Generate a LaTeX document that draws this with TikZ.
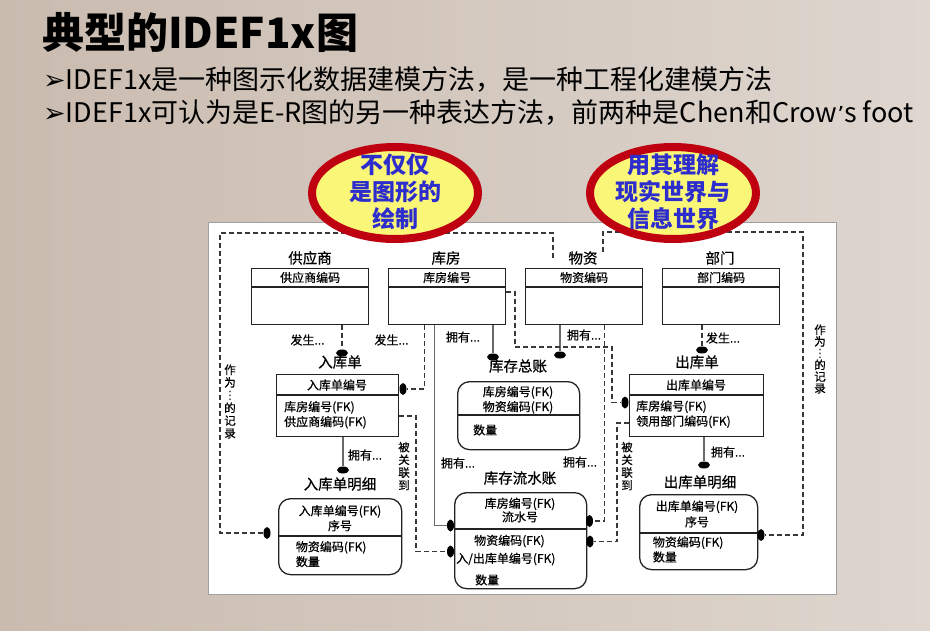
\documentclass[tikz,border=0pt]{standalone}
\usepackage{fontspec}
\setmainfont{Noto Sans CJK SC}
\newfontfamily\dgm{Noto Sans CJK SC}[FakeBold=0.6]
\newfontfamily\sym{DejaVu Sans}
\usetikzlibrary{shapes.geometric}
\definecolor{bgL}{RGB}{202,187,175}
\definecolor{bgR}{RGB}{222,214,207}
\definecolor{ringred}{RGB}{190,0,16}
\definecolor{ellyel}{RGB}{250,246,120}
\definecolor{ellblue}{RGB}{45,45,205}
\definecolor{solidgray}{RGB}{105,105,105}
\definecolor{dashgray}{RGB}{55,55,55}
\definecolor{boxline}{RGB}{35,35,35}
\definecolor{panelline}{RGB}{160,160,160}
\begin{document}
\begin{tikzpicture}[x=1pt,y=-1pt,
  ent/.style={draw=boxline, line width=1.3pt, fill=white, inner sep=0, anchor=north west},
  rent/.style={ent, rounded corners=12pt},
  div/.style={draw=boxline, line width=1.2pt},
  txt/.style={font=\dgm\fontsize{12}{15}\selectfont, inner sep=0, align=center},
  lbl/.style={font=\dgm\fontsize{14.5}{16}\selectfont, inner sep=0},
  body/.style={font=\dgm\fontsize{12}{15}\selectfont, inner sep=0, align=left, anchor=west},
  solidc/.style={draw=solidgray, line width=1.6pt},
  dashc/.style={draw=dashgray, line width=1.1pt, dash pattern=on 5pt off 3pt},
  hdot/.style={ellipse, fill=black, minimum width=12pt, minimum height=7pt, inner sep=0},
  vdot/.style={ellipse, fill=black, minimum width=7pt, minimum height=12pt, inner sep=0},
  rel/.style={font=\dgm\fontsize{12}{14}\selectfont, inner sep=0},
  vtxt/.style={font=\dgm\fontsize{11.5}{12.7}\selectfont, align=center, inner sep=0},
  ell/.style={ellipse, draw=ringred, line width=8pt, fill=ellyel, minimum width=166pt, minimum height=92pt, inner sep=0},
  elltxt/.style={font=\fontsize{23}{27}\selectfont\bfseries, text=ellblue, align=center, inner sep=0},
]
\useasboundingbox (0,0) rectangle (930,630);
\shade[left color=bgL, right color=bgR] (0,0) rectangle (930,630);

% title and bullets
\node[anchor=west, inner sep=0, font=\fontsize{42}{46}\selectfont\bfseries] (title) at (42,32) {典型的IDEF1x图};
\node[anchor=west, inner sep=0, font=\fontsize{27}{30}\selectfont] (b1) at (43,80) {{\sym\fontsize{27}{28}\selectfont ➢}IDEF1x是一种图示化数据建模方法，是一种工程化建模方法};
\node[anchor=west, inner sep=0, font=\fontsize{27}{30}\selectfont] (b2) at (43,113) {{\sym\fontsize{27}{28}\selectfont ➢}IDEF1x可认为是E-R图的另一种表达方法，前两种是Chen和Crow{\sym\fontsize{22}{24}\selectfont ’}s foot};

% panel
\node[draw=panelline, fill=white, line width=0.8pt, minimum width=628pt, minimum height=372pt, inner sep=0, anchor=north west] (panel) at (208,222) {};

% top entities
\node[ent, minimum width=117pt, minimum height=56pt] (gys) at (251,268) {};
\node[ent, minimum width=117pt, minimum height=56pt] (kf) at (388,268) {};
\node[ent, minimum width=117pt, minimum height=56pt] (wz) at (525,268) {};
\node[ent, minimum width=117pt, minimum height=56pt] (bm) at (662,268) {};
\foreach \n in {gys,kf,wz,bm}{
  \draw[div] ([yshift=-19pt]\n.north west) -- ([yshift=-19pt]\n.north east);
}
\node[txt] (gysk) at ([yshift=-9.5pt]gys.north) {供应商编码};
\node[txt] (kfk) at ([yshift=-9.5pt]kf.north) {库房编号};
\node[txt] (wzk) at ([yshift=-9.5pt]wz.north) {物资编码};
\node[txt] (bmk) at ([yshift=-9.5pt]bm.north) {部门编码};
\node[lbl] (gysl) at (310,258) {供应商};
\node[lbl] (kfl) at (446,258) {库房};
\node[lbl] (wzl) at (583,258) {物资};
\node[lbl] (bml) at (720,258) {部门};

% middle entities
\node[ent, minimum width=122pt, minimum height=62pt] (rkd) at (276,374) {};
\draw[div] ([yshift=-21pt]rkd.north west) -- ([yshift=-21pt]rkd.north east);
\node[txt] (rkdk) at (337,385) {入库单编号};
\node[body] (rkdb) at (284,414.8) {库房编号(FK)\\供应商编码(FK)};
\node[lbl] (rkdl) at (340,362) {入库单};

\node[rent, minimum width=122pt, minimum height=68pt] (kczz) at (457,381) {};
\draw[div] ([yshift=-34pt]kczz.north west) -- ([yshift=-34pt]kczz.north east);
\node[txt] (kczzk) at (518,399.8) {库房编号(FK)\\物资编码(FK)};
\node[body] (kczzb) at (473,430) {数量};
\node[lbl] (kczzl) at (518,366) {库存总账};

\node[ent, minimum width=134pt, minimum height=62pt] (ckd) at (629,374) {};
\draw[div] ([yshift=-21pt]ckd.north west) -- ([yshift=-21pt]ckd.north east);
\node[txt] (ckdk) at (696,385) {出库单编号};
\node[body] (ckdb) at (636,414.2) {库房编号(FK)\\领用部门编码(FK)};
\node[lbl] (ckdl) at (697,362) {出库单};

% bottom entities
\node[rent, minimum width=123pt, minimum height=76pt] (rkmx) at (278,498) {};
\draw[div] ([yshift=-38pt]rkmx.north west) -- ([yshift=-38pt]rkmx.north east);
\node[txt] (rkmxk) at (340,518.2) {入库单编号(FK)\\序号};
\node[body] (rkmxb) at (295.7,554.2) {物资编码(FK)\\数量};
\node[lbl] (rkmxl) at (340,484) {入库单明细};

\node[rent, minimum width=132pt, minimum height=96pt] (kcls) at (454,492) {};
\draw[div] ([yshift=-37pt]kcls.north west) -- ([yshift=-37pt]kcls.north east);
\node[txt, font=\dgm\fontsize{12}{13.6}\selectfont] (kclsk) at (520,510) {库房编号(FK)\\流水号};
\node[body] (kclsb1) at (474,541) {物资编码(FK)};
\node[body] (kclsb2) at (456,559) {入/出库单编号(FK)};
\node[body] (kclsb3) at (475,580) {数量};
\node[lbl] (kclsl) at (520,478) {库存流水账};

\node[rent, minimum width=118pt, minimum height=75pt] (ckmx) at (639,494) {};
\draw[div] ([yshift=-39pt]ckmx.north west) -- ([yshift=-39pt]ckmx.north east);
\node[txt, font=\dgm\fontsize{12}{15.7}\selectfont] (ckmxk) at (697,514) {出库单编号(FK)\\序号};
\node[body] (ckmxb) at (652.7,549.5) {物资编码(FK)\\数量};
\node[lbl] (ckmxl) at (700,482) {出库单明细};

% dots
\node[hdot] (d1) at (342,353) {};
\node[vdot] (d2) at (403,389) {};
\node[vdot] (d3) at (450.5,525.5) {};
\node[hdot] (d4) at (493,357) {};
\node[hdot] (d5) at (560,355) {};
\node[vdot] (d6) at (589.5,521) {};
\node[vdot] (d7) at (625,402.5) {};
\node[vdot] (d8) at (450.5,551.5) {};
\node[vdot] (d9) at (590,541.5) {};
\node[hdot] (d10) at (343,470) {};
\node[hdot] (d11) at (704,465) {};
\node[hdot] (d12) at (702,350) {};
\node[vdot] (d13) at (267,533) {};
\node[vdot] (d14) at (761,535) {};
\coordinate (w1) at (553,258);
\coordinate (w2) at (603,252);

% connectors
\draw[dashc] (gys.south -| d1) -- (d1);
\draw[dashc] ([xshift=-22.5pt]kf.south) |- (d2);
\draw[solidc] ([xshift=-12.5pt]kf.south) |- (d3);
\draw[solidc] (kf.south -| d4) -- (d4);
\draw[solidc] (wz.south -| d5) -- (d5);
\draw[dashc] ([xshift=20.5pt]wz.south) |- (d6);
\draw[dashc] ([yshift=-24pt]kf.north east) -| (515,347) -- (612,347) |- (d7);
\draw[dashc] ([yshift=-42pt]rkd.north east) -- (416,416) |- (d8);
\draw[dashc] ([yshift=-49pt]ckd.north west) -- (617,423) |- (d9);
\draw[solidc] (rkd.south -| d10) -- (d10);
\draw[solidc] (ckd.south -| d11) -- (d11);
\draw[dashc] (bm.south -| d12) -- (d12);
\draw[dashc] (w1) -- (553,233) -| (220,533) -- (d13);
\draw[dashc] (w2) -- (603,232) -| (803,535) -- (d14);

% relationship labels
\node[rel] (r1) at (307.5,340) {发生...};
\node[rel] (r2) at (391.5,340) {发生...};
\node[rel] (r3) at (463,337) {拥有...};
\node[rel] (r4) at (584,335) {拥有...};
\node[rel] (r5) at (458,463) {拥有...};
\node[rel] (r6) at (580,462) {拥有...};
\node[rel] (r7) at (365,455) {拥有...};
\node[rel] (r8) at (728,452) {拥有...};
\node[rel] (r9) at (723,338) {发生...};
\node[vtxt] (v1) at (230,401.5) {作\\为\\{\sym ⋮}\\的\\记\\录};
\node[vtxt, font=\dgm\fontsize{11.5}{11.7}\selectfont] (v2) at (820,359) {作\\为\\{\sym ⋮}\\的\\记\\录};
\node[vtxt] (v3) at (404,466) {被\\关\\联\\到};
\node[vtxt] (v4) at (627,466) {被\\关\\联\\到};

% callout ellipses
\node[ell] (e1) at (395,193) {};
\node[elltxt] (e1t) at (395,192) {不仅仅\\是图形的\\绘制};
\node[ell] (e2) at (673,193) {};
\node[elltxt] (e2t) at (673,192) {用其理解\\现实世界与\\信息世界};
\end{tikzpicture}
\end{document}
